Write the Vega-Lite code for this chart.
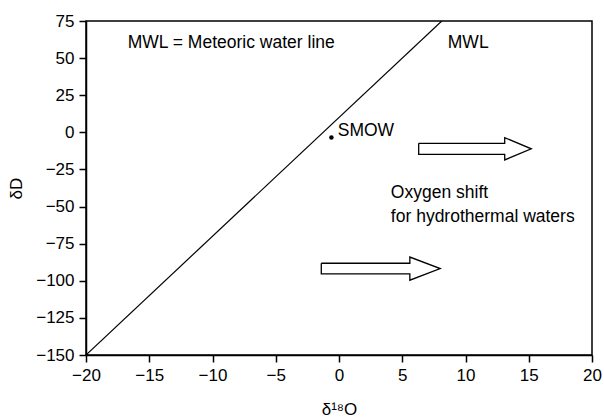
{
  "$schema": "https://vega.github.io/schema/vega-lite/v6.json",
  "width": 506,
  "height": 334,
  "autosize": {"type": "none"},
  "padding": {"left": 86, "top": 21, "right": 12, "bottom": 64},
  "background": "white",
  "config": {
    "font": "Liberation Sans",
    "view": {"stroke": "black", "strokeWidth": 1.5},
    "axis": {
      "grid": false,
      "domainColor": "black",
      "domainWidth": 1.5,
      "tickColor": "black",
      "tickWidth": 1.5,
      "tickSize": 7,
      "labelColor": "black",
      "labelFontSize": 17,
      "labelFont": "Liberation Sans",
      "labelPadding": 5,
      "labelFlush": false,
      "labelOverlap": false,
      "titleColor": "black",
      "titleFont": "Liberation Sans",
      "titleFontSize": 17,
      "titleFontWeight": "normal"
    }
  },
  "datasets": {
    "mwl": [
      {"d18O": -20, "dD": -150},
      {"d18O": 8.125, "dD": 75}
    ],
    "smow": [
      {"d18O": -0.6, "dD": -3.5}
    ],
    "arrows": [
      {"arrow": "upper", "order": 1, "d18O": 6.3, "dD": -7.4},
      {"arrow": "upper", "order": 2, "d18O": 13.1, "dD": -7.4},
      {"arrow": "upper", "order": 3, "d18O": 13.1, "dD": -3.6},
      {"arrow": "upper", "order": 4, "d18O": 15.2, "dD": -11.1},
      {"arrow": "upper", "order": 5, "d18O": 13.1, "dD": -18.6},
      {"arrow": "upper", "order": 6, "d18O": 13.1, "dD": -14.8},
      {"arrow": "upper", "order": 7, "d18O": 6.3, "dD": -14.8},
      {"arrow": "upper", "order": 8, "d18O": 6.3, "dD": -7.4},
      {"arrow": "lower", "order": 1, "d18O": -1.4, "dD": -88.2},
      {"arrow": "lower", "order": 2, "d18O": 5.6, "dD": -88.2},
      {"arrow": "lower", "order": 3, "d18O": 5.6, "dD": -84.0},
      {"arrow": "lower", "order": 4, "d18O": 8.0, "dD": -91.8},
      {"arrow": "lower", "order": 5, "d18O": 5.6, "dD": -99.6},
      {"arrow": "lower", "order": 6, "d18O": 5.6, "dD": -95.4},
      {"arrow": "lower", "order": 7, "d18O": -1.4, "dD": -95.4},
      {"arrow": "lower", "order": 8, "d18O": -1.4, "dD": -88.2}
    ],
    "labels": [
      {"d18O": -16.7, "dD": 60, "text": "MWL = Meteoric water line"},
      {"d18O": 8.6, "dD": 60, "text": "MWL"},
      {"d18O": -0.1, "dD": 1, "text": "SMOW"},
      {"d18O": 4.1, "dD": -41, "text": "Oxygen shift"},
      {"d18O": 4.1, "dD": -57, "text": "for hydrothermal waters"}
    ]
  },
  "encoding": {
    "x": {
      "field": "d18O",
      "type": "quantitative",
      "scale": {"domain": [-20, 20], "nice": false, "zero": false},
      "axis": {"values": [-20, -15, -10, -5, 0, 5, 10, 15, 20], "title": "δ¹⁸O", "titlePadding": 18}
    },
    "y": {
      "field": "dD",
      "type": "quantitative",
      "scale": {"domain": [-150, 75], "nice": false, "zero": false},
      "axis": {"values": [-150, -125, -100, -75, -50, -25, 0, 25, 50, 75], "title": "δD", "titlePadding": 10}
    }
  },
  "layer": [
    {
      "data": {"name": "mwl"},
      "mark": {"type": "line", "color": "black", "strokeWidth": 1.2, "clip": true}
    },
    {
      "data": {"name": "arrows"},
      "mark": {"type": "line", "color": "black", "strokeWidth": 1.3},
      "encoding": {
        "detail": {"field": "arrow", "type": "nominal"},
        "order": {"field": "order", "type": "quantitative"}
      }
    },
    {
      "data": {"name": "smow"},
      "mark": {"type": "point", "filled": true, "color": "black", "size": 20, "opacity": 1}
    },
    {
      "data": {"name": "labels"},
      "mark": {"type": "text", "align": "left", "baseline": "middle", "fontSize": 17.5, "font": "Liberation Sans", "color": "black"},
      "encoding": {"text": {"field": "text", "type": "nominal"}}
    }
  ]
}
